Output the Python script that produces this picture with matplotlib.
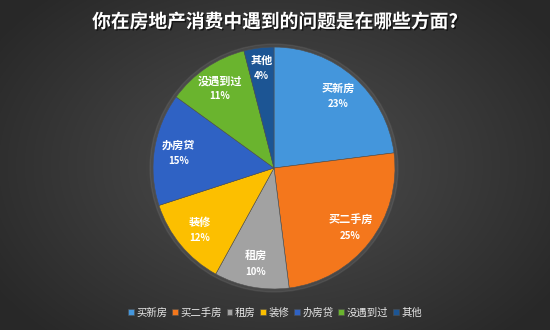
import numpy as np
import matplotlib
matplotlib.use("Agg")
import matplotlib.pyplot as plt
import matplotlib.patheffects as pe

plt.rcParams['font.family'] = ['Noto Sans CJK SC', 'DejaVu Sans']

title = '你在房地产消费中遇到的问题是在哪些方面?'
labels = ['买新房', '买二手房', '租房', '装修', '办房贷', '没遇到过', '其他']
values = [23, 25, 10, 12, 15, 11, 4]
colors = ['#4496dc', '#f4771c', '#a2a2a2', '#fcbf00', '#2f62c4', '#6ab42e', '#1c5594']

fig = plt.figure(figsize=(5.5, 3.3), dpi=100)

# radial gradient background
bg = fig.add_axes([0, 0, 1, 1])
yy, xx = np.mgrid[0:330, 0:550]
d = np.sqrt(((xx - 275) / 330.0) ** 2 + ((yy - 165) / 230.0) ** 2)
shade = np.clip(0.31 - 0.15 * d, 0.16, 0.31)
bg.imshow(np.dstack([shade, shade, shade]), extent=[0, 1, 0, 1], aspect='auto')
bg.axis('off')

fig.text(0.5, 0.933, title, ha='center', va='center', color='white',
         fontsize=13.5, fontweight='bold',
         path_effects=[pe.withSimplePatchShadow(offset=(1, -1), shadow_rgbFace='black', alpha=0.6)])

ax = fig.add_axes([0.2673, 0.106, 0.4618, 0.7697])
# faint halo
ax.add_patch(plt.Circle((0, 0), 1.025, color='#888888', alpha=0.18, zorder=0))
wedges, _ = ax.pie(values, colors=colors, startangle=90, counterclock=False,
                   wedgeprops=dict(linewidth=0.4, edgecolor='#505050'))
ax.set_aspect('equal')
ax.set_xlim(-1.05, 1.05)
ax.set_ylim(-1.05, 1.05)

start = 90.0
total = float(sum(values))
for lab, v in zip(labels, values):
    ang = np.deg2rad(start - 360.0 * v / total / 2)
    start -= 360.0 * v / total
    r = 0.8 if v > 5 else 0.84
    x, y = r * np.cos(ang), r * np.sin(ang)
    ax.text(x, y + 0.06, lab, ha='center', va='center', color='white', fontsize=8,
            fontweight='bold')
    ax.text(x, y - 0.07, '%d%%' % v, ha='center', va='center', color='white', fontsize=7,
            fontweight='bold')

leg = fig.legend(wedges, labels, loc='center', bbox_to_anchor=(0.5, 0.052), ncol=7,
                 frameon=False, handlelength=0.55, handleheight=0.55, handletextpad=0.25,
                 columnspacing=0.45, fontsize=7.5)
for t in leg.get_texts():
    t.set_color('#e6e6e6')

fig.savefig('out.png', dpi=100)
